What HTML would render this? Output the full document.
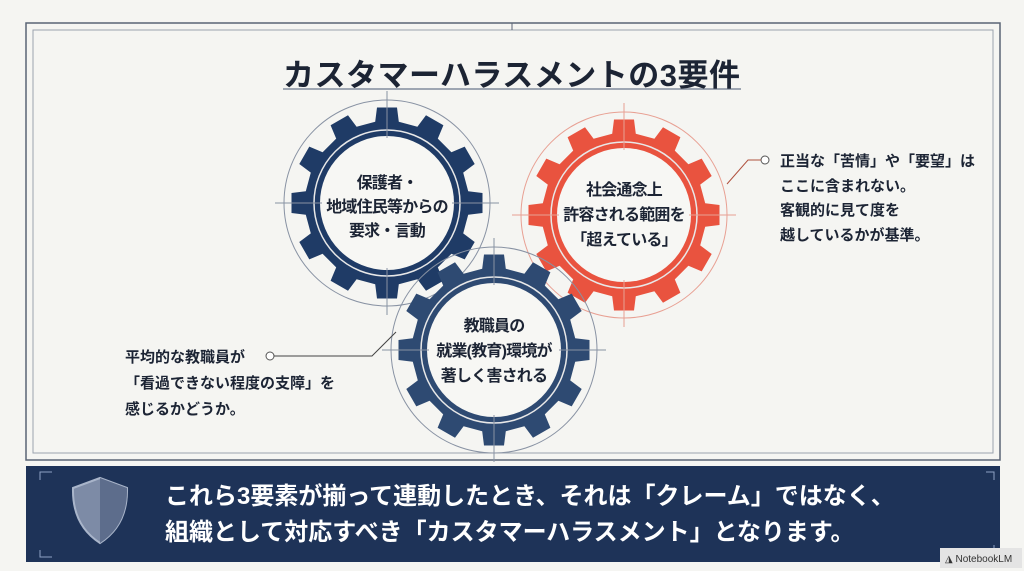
<!DOCTYPE html>
<html><head><meta charset="utf-8"><style>
html,body{margin:0;padding:0;}
body{width:1024px;height:571px;background:#f5f5f2;position:relative;overflow:hidden;font-family:"Liberation Sans","Noto Sans CJK JP",sans-serif;}
.t{position:absolute;font-weight:bold;color:#1c2434;white-space:nowrap;}
.g{letter-spacing:-0.8px;}
</style></head><body>
<svg id="s" width="1024" height="571" style="position:absolute;left:0;top:0">
<rect x="26" y="23" width="974" height="437" fill="none" stroke="#5a6475" stroke-width="1.5"/>
<rect x="33" y="30" width="960" height="423" fill="none" stroke="#9aa2ae" stroke-width="1"/>
<line x1="512" y1="23" x2="512" y2="30" stroke="#5a6475"/>
<line x1="283" y1="89" x2="741" y2="89" stroke="#9ea6b2" stroke-width="2"/>
<rect x="26" y="466" width="974" height="96" fill="#1e3358"/>
<path d="M40 480 V472 H52 M40 550 V557 H52 M986 472 H994 V480 M994 545 V557" stroke="#8ea2c4" fill="none"/>
<path d="M73 488 L100 478 L127 488 Q128 525 100 543 Q72 525 73 488Z" fill="#7d8ba6" stroke="#a9b5ca" stroke-width="2"/>
<path d="M100 478 L127 488 Q128 525 100 543Z" fill="#5d6d8c"/>
<g id="g"></g>
<circle cx="765" cy="160" r="4" fill="#fff" stroke="#555" stroke-width="1"/>
<polyline points="761,160 748,160 727,184" fill="none" stroke="#b0523f" stroke-width="1"/>
<circle cx="270" cy="356" r="4" fill="#fff" stroke="#555" stroke-width="1"/>
<polyline points="274,356 372,356 396,332" fill="none" stroke="#444" stroke-width="1"/>
<rect x="940" y="548" width="82" height="20" fill="#e4e4e4"/>
<text x="945" y="562" font-size="10" fill="#333" font-family="Liberation Sans">◮ NotebookLM</text>
</svg>
<div class="t" style="left:283px;top:50px;font-size:31px;letter-spacing:0.5px;">カスタマーハラスメントの3要件</div>
<div class="t g" style="left:307px;top:172px;width:160px;text-align:center;font-size:16px;line-height:24px;">保護者・<br>地域住民等からの<br>要求・言動</div>
<div class="t g" style="left:544px;top:178px;width:160px;text-align:center;font-size:16px;line-height:25px;">社会通念上<br>許容される範囲を<br>「超えている」</div>
<div class="t g" style="left:414px;top:314px;width:160px;text-align:center;font-size:16px;line-height:25px;">教職員の<br>就業(教育)環境が<br>著しく害される</div>
<div class="t" style="left:780px;top:150px;font-size:15px;line-height:24.5px;">正当な「苦情」や「要望」は<br>ここに含まれない。<br>客観的に見て度を<br>越しているかが基準。</div>
<div class="t" style="left:125px;top:345px;font-size:15px;line-height:26px;">平均的な教職員が<br>「看過できない程度の支障」を<br>感じるかどうか。</div>
<div class="t" style="left:165px;top:479px;font-size:24px;line-height:36px;color:#fff;">これら3要素が揃って連動したとき、それは「クレーム」ではなく、<br>組織として対応すべき「カスタマーハラスメント」となります。</div>
<script>
function gear(cx,cy,col,ring){
 var R=96,r=82,n=12,pts=[];
 for(var i=0;i<n;i++){
  var a=i*2*Math.PI/n, w=Math.PI/n;
  var as=[a-w*0.55,a-w*0.4,a+w*0.4,a+w*0.55];
  var rs=[r,R,R,r];
  for(var k=0;k<4;k++)pts.push((cx+rs[k]*Math.cos(as[k])).toFixed(1)+","+(cy+rs[k]*Math.sin(as[k])).toFixed(1));
 }
 var s='<circle cx="'+cx+'" cy="'+cy+'" r="103" fill="none" stroke="'+ring+'" stroke-width="1"/>';
 s+='<polygon points="'+pts.join(" ")+'" fill="'+col+'"/>';
 s+='<circle cx="'+cx+'" cy="'+cy+'" r="73" fill="none" stroke="#e8e8e8" stroke-width="1.5"/>';
 s+='<circle cx="'+cx+'" cy="'+cy+'" r="67" fill="#f7f7f4"/>';
 s+='<path d="M'+(cx-112)+' '+cy+'H'+(cx-65)+'M'+(cx+65)+' '+cy+'H'+(cx+112)+'M'+cx+' '+(cy-112)+'V'+(cy-65)+'M'+cx+' '+(cy+65)+'V'+(cy+112)+'" stroke="'+ring+'" stroke-width="1"/>';
 return s;
}
document.getElementById('g').innerHTML=gear(387,203,'#1f3b66','#8892a3')+gear(624,215,'#e9533f','#e8a093')+gear(494,350,'#2e4a72','#8892a3');
</script>
</body></html>
